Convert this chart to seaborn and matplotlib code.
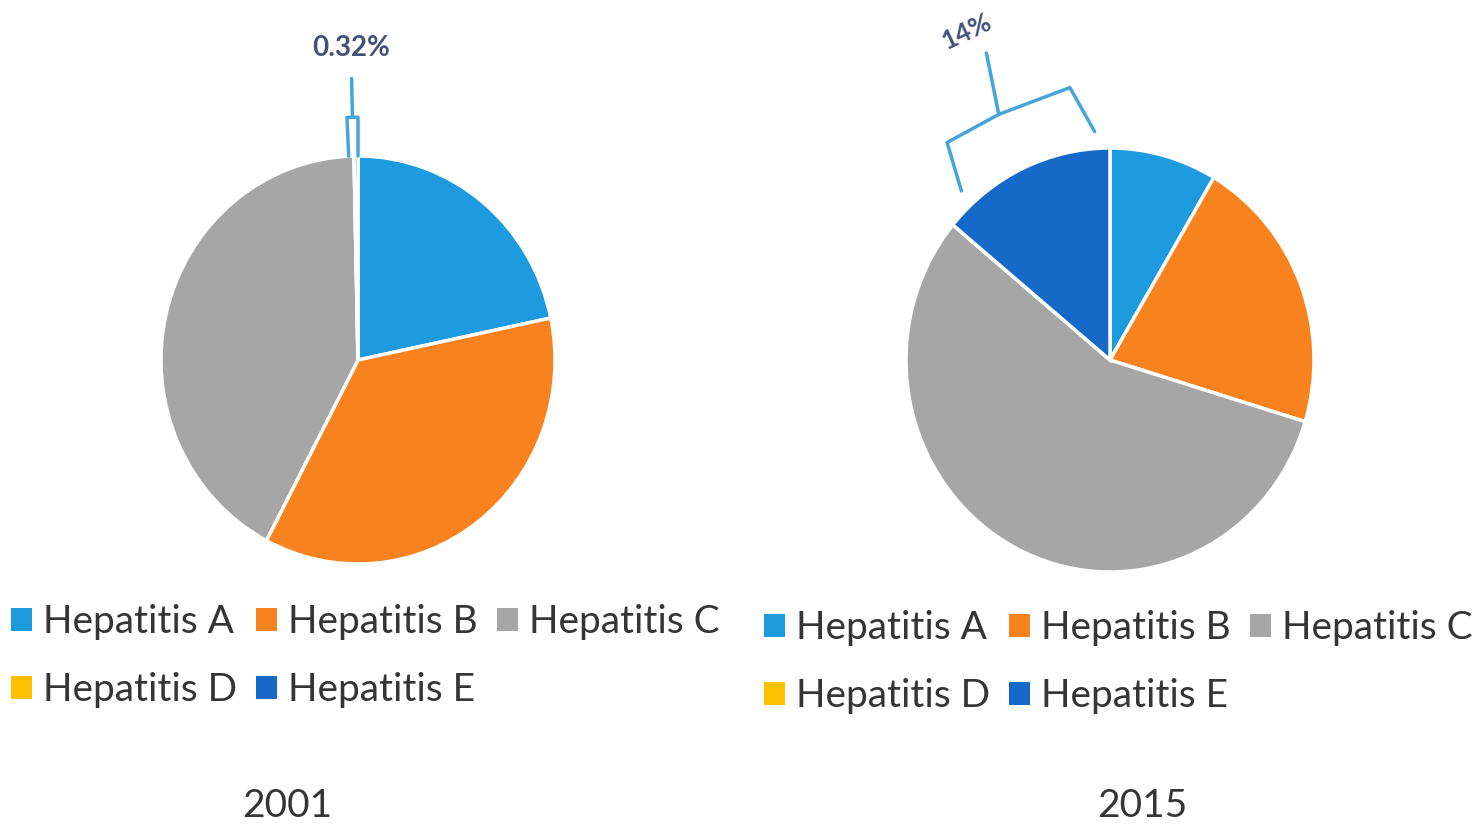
import numpy as np
import matplotlib
matplotlib.use("Agg")
import matplotlib.pyplot as plt
from matplotlib.patches import Patch
import seaborn as sns

# Share of viral hepatitis cases by type
categories = ["Hepatitis A", "Hepatitis B", "Hepatitis C", "Hepatitis D", "Hepatitis E"]
share_2001 = [21.7, 36.0, 41.98, 0.0, 0.32]
share_2015 = [8.5, 21.2, 56.3, 0.0, 14.0]
years = ["2001", "2015"]

palette = ["#1E9BDF", "#F8821E", "#A6A6A6", "#FFC000", "#1769C9"]

sns.set_theme(style="white")
plt.rcParams["font.family"] = ["Lato", "DejaVu Sans"]

W, H = 1482, 827
fig = plt.figure(figsize=(W / 100, H / 100), dpi=100)
fig.patch.set_facecolor("white")

TEXT = "#353535"
LABEL = "#44527A"
LEADER = "#45A5DA"


def pie_axes(cx, cy, rx, ry):
    return fig.add_axes([(cx - rx) / W, 1 - (cy + ry) / H, 2 * rx / W, 2 * ry / H])


def polar(r, ang):
    # angle measured clockwise from 12 o'clock, in degrees
    a = np.deg2rad(ang)
    return r * np.sin(a), r * np.cos(a)


def draw_pie(ax, values):
    ax.pie(values, colors=palette, startangle=90, counterclock=False, radius=1,
           wedgeprops=dict(edgecolor="white", linewidth=2.5))
    ax.set_aspect("auto")
    ax.set_xlim(-1, 1)
    ax.set_ylim(-1, 1)
    ax.axis("off")


def callout(ax, values, idx, r_in, r_out, r_spike, r_text, insets, notch,
            min_span, spike_shift, text_shift, fontsize):
    total = float(sum(values))
    start = 360.0 * sum(values[:idx]) / total
    end = 360.0 * sum(values[:idx + 1]) / total
    if end - start < min_span:
        start = end - min_span
    mid = 0.5 * (start + end)
    s_end, s_corner, e_corner, e_end = insets
    pts = [polar(r_in, start + s_end), polar(r_out, start + s_corner),
           polar(r_out * notch, mid), polar(r_out, end - e_corner),
           polar(r_in, end - e_end)]
    xs, ys = zip(*pts)
    ax.plot(xs, ys, color=LEADER, lw=2.5, clip_on=False,
            solid_joinstyle="round", solid_capstyle="round")
    sx, sy = zip(polar(r_out * notch, mid), polar(r_spike, mid + spike_shift))
    ax.plot(sx, sy, color=LEADER, lw=2.5, clip_on=False, solid_capstyle="round")
    txt = f"{values[idx]:g}%"
    tx, ty = polar(r_text, mid + text_shift)
    rot = 360 - mid if mid > 180 else -mid
    if abs(rot) < 3:
        rot = 0
    ax.text(tx, ty, txt, ha="center", va="center", rotation=rot,
            fontsize=fontsize, fontweight="bold", color=LABEL)


ax1 = pie_axes(358, 360, 197, 204)
draw_pie(ax1, share_2001)
callout(ax1, share_2001, 4, r_in=1.0, r_out=1.19, r_spike=1.38, r_text=1.53,
        insets=(0, 0, 0, 0), notch=1.0, min_span=2.7, spike_shift=0.0,
        text_shift=0.0, fontsize=20)

ax2 = pie_axes(1110, 360, 204, 212)
draw_pie(ax2, share_2015)
callout(ax2, share_2015, 4, r_in=1.08, r_out=1.30, r_spike=1.57, r_text=1.70,
        insets=(8.0, 12.5, 8.7, 4.0), notch=0.985, min_span=2.7, spike_shift=2.5,
        text_shift=0.8, fontsize=19)

# legends laid out row by row: A B C / D E
order = [0, 3, 1, 4, 2]
handles = [Patch(facecolor=palette[i], edgecolor="none", label=categories[i]) for i in order]
for x0, y0 in [(11, 604), (764, 610)]:
    fig.legend(handles=handles, loc="upper left",
               bbox_to_anchor=(x0 / W, 1 - y0 / H), ncol=3, frameon=False,
               fontsize=28, handlelength=0.55, handleheight=0.55, handletextpad=0.28,
               columnspacing=0.48, labelspacing=0.83, borderpad=0, borderaxespad=0,
               labelcolor=TEXT)

for yr, x in zip(years, [287, 1142]):
    fig.text(x / W, 1 - 806 / H, yr, ha="center", va="center", fontsize=28, color=TEXT)

fig.savefig("out.png", dpi=100, facecolor="white")
